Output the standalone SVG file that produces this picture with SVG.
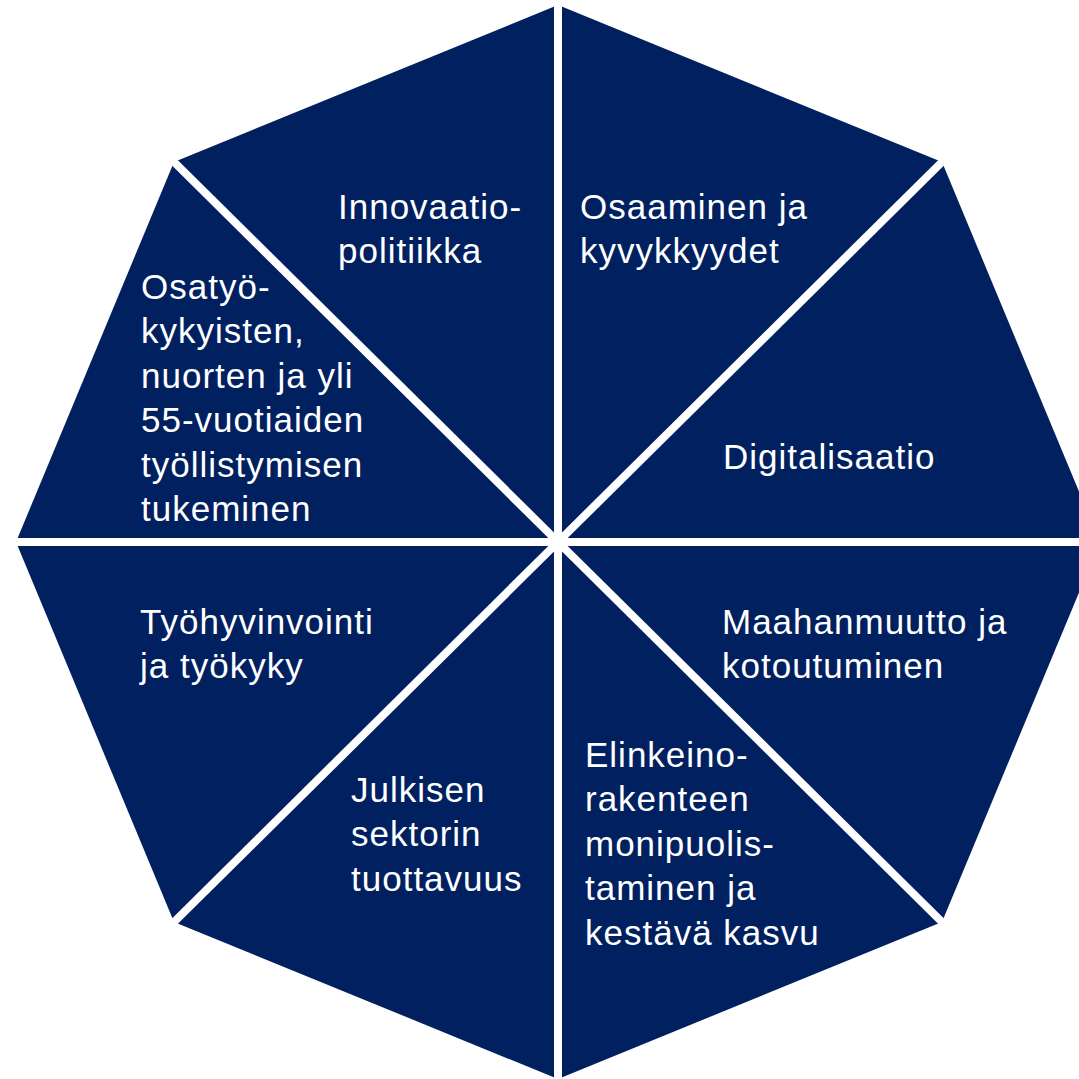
<svg xmlns="http://www.w3.org/2000/svg" width="1079" height="1079" viewBox="0 0 1079 1079">
<style>
.slice{fill:#002060}
.lbl{font-family:"Liberation Sans",Arial,sans-serif;font-size:35px;fill:#ffffff;letter-spacing:1px}
.gap{stroke:#ffffff;stroke-width:8;stroke-linecap:butt}
</style>
<rect width="1079" height="1079" fill="#ffffff"/>
<g id="slice-innovaatio">
<polygon class="slice" points="558,542 174,162 558,5"/>
<text class="lbl"><tspan x="338" y="219">Innovaatio-</tspan><tspan x="338" y="263">politiikka</tspan></text>
</g>
<g id="slice-osaaminen">
<polygon class="slice" points="558,542 558,5 942,162"/>
<text class="lbl"><tspan x="580" y="219">Osaaminen ja</tspan><tspan x="580" y="263">kyvykkyydet</tspan></text>
</g>
<g id="slice-digitalisaatio">
<polygon class="slice" points="558,542 942,162 1100,542"/>
<text class="lbl" x="723" y="469">Digitalisaatio</text>
</g>
<g id="slice-maahanmuutto">
<polygon class="slice" points="558,542 1100,542 942,922"/>
<text class="lbl"><tspan x="722" y="634">Maahanmuutto ja</tspan><tspan x="722" y="678">kotoutuminen</tspan></text>
</g>
<g id="slice-elinkeino">
<polygon class="slice" points="558,542 942,922 558,1079"/>
<text class="lbl"><tspan x="585" y="767">Elinkeino-</tspan><tspan x="585" y="811">rakenteen</tspan><tspan x="585" y="856">monipuolis-</tspan><tspan x="585" y="900">taminen ja</tspan><tspan x="585" y="945">kestävä kasvu</tspan></text>
</g>
<g id="slice-julkisen">
<polygon class="slice" points="558,542 558,1079 174,922"/>
<text class="lbl"><tspan x="351" y="802">Julkisen</tspan><tspan x="351" y="846">sektorin</tspan><tspan x="351" y="891">tuottavuus</tspan></text>
</g>
<g id="slice-tyohyvinvointi">
<polygon class="slice" points="558,542 174,922 16,542"/>
<text class="lbl"><tspan x="140" y="634">Työhyvinvointi</tspan><tspan x="140" y="678">ja työkyky</tspan></text>
</g>
<g id="slice-osatyokykyisten">
<polygon class="slice" points="558,542 16,542 174,162"/>
<text class="lbl"><tspan x="141" y="299">Osatyö-</tspan><tspan x="141" y="343">kykyisten,</tspan><tspan x="141" y="388">nuorten ja yli</tspan><tspan x="141" y="432">55-vuotiaiden</tspan><tspan x="141" y="477">työllistymisen</tspan><tspan x="141" y="521">tukeminen</tspan></text>
</g>
<g id="dividers">
<line class="gap" x1="558" y1="542" x2="558" y2="0"/>
<line class="gap" x1="558" y1="542" x2="558" y2="1079"/>
<line class="gap" x1="558" y1="542" x2="0" y2="542"/>
<line class="gap" x1="558" y1="542" x2="1079" y2="542"/>
<line class="gap" x1="558" y1="542" x2="168" y2="156"/>
<line class="gap" x1="558" y1="542" x2="948" y2="156"/>
<line class="gap" x1="558" y1="542" x2="948" y2="928"/>
<line class="gap" x1="558" y1="542" x2="168" y2="928"/>
</g>
</svg>
